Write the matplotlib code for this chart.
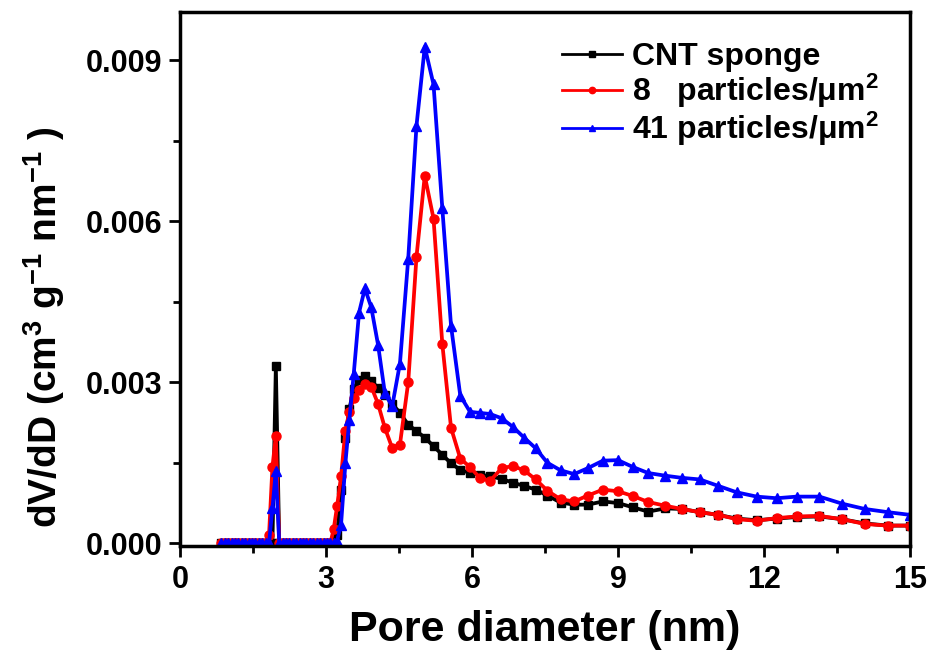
"""Pore size distribution: CNT sponge vs. particle-loaded sponges."""
import matplotlib

matplotlib.use("Agg")
import matplotlib.pyplot as plt
from matplotlib.ticker import FormatStrFormatter, MultipleLocator

# pore diameter grid (nm)
pore_d = [
    0.85, 0.92, 0.99, 1.06, 1.13, 1.20, 1.27, 1.34, 1.41, 1.48, 1.55, 1.62,
    1.69, 1.76, 1.83, 1.90, 1.97, 2.04, 2.11, 2.18, 2.25, 2.32, 2.39, 2.46,
    2.53, 2.60, 2.67, 2.74, 2.81, 2.88, 2.95, 3.02, 3.09, 3.16,
    3.23, 3.31, 3.40, 3.48, 3.57, 3.68, 3.80, 3.93, 4.07, 4.21, 4.36, 4.52,
    4.69, 4.86, 5.03, 5.21, 5.39, 5.57, 5.76, 5.96,
    6.16, 6.37, 6.61, 6.84, 7.07, 7.31, 7.55, 7.82, 8.10, 8.38, 8.69, 9.00,
    9.31, 9.62, 9.97, 10.31, 10.68, 11.06, 11.44, 11.85, 12.26, 12.67, 13.14,
    13.60, 14.07, 14.55, 15.00,
]

# dV/dD in units of 1e-3 cm3 g-1 nm-1
cnt_sponge = [
    0, 0, 0, 0, 0, 0, 0, 0, 0, 0, 0, 0,
    0, 0, 0, 0, 3.30, 0, 0, 0, 0, 0, 0, 0,
    0, 0, 0, 0, 0, 0, 0, 0, 0, 0,
    0.15, 1.00, 1.97, 2.50, 2.88, 3.05, 3.12, 3.02, 2.90, 2.77, 2.60, 2.43,
    2.21, 2.09, 1.97, 1.81, 1.65, 1.49, 1.37, 1.31,
    1.28, 1.25, 1.20, 1.13, 1.07, 1.00, 0.89, 0.76, 0.72, 0.72, 0.78, 0.75,
    0.67, 0.59, 0.65, 0.64, 0.58, 0.53, 0.46, 0.43, 0.46, 0.49, 0.50,
    0.45, 0.37, 0.33, 0.33,
]
p8 = [
    0, 0, 0, 0, 0, 0, 0, 0, 0, 0, 0, 0,
    0, 0, 0.15, 1.42, 2.00, 0, 0, 0, 0, 0, 0, 0,
    0, 0, 0, 0, 0, 0, 0, 0, 0, 0.27,
    0.70, 1.25, 2.10, 2.45, 2.70, 2.85, 2.96, 2.92, 2.60, 2.15, 1.78, 1.84,
    3.00, 5.34, 6.85, 6.05, 3.72, 2.15, 1.58, 1.42,
    1.22, 1.16, 1.40, 1.44, 1.36, 1.19, 0.98, 0.82, 0.78, 0.89, 1.00, 0.97,
    0.88, 0.77, 0.70, 0.64, 0.58, 0.53, 0.45, 0.42, 0.47, 0.50, 0.51,
    0.45, 0.36, 0.33, 0.33,
]
p41 = [
    0, 0, 0, 0, 0, 0, 0, 0, 0, 0, 0, 0,
    0, 0, 0, 0.65, 1.35, 0, 0, 0, 0, 0, 0, 0,
    0, 0, 0, 0, 0, 0, 0, 0, 0, 0,
    0.05, 0.35, 1.50, 2.30, 3.15, 4.30, 4.75, 4.40, 3.70, 2.80, 2.55, 3.35,
    5.30, 7.78, 9.25, 8.55, 6.25, 4.05, 2.75, 2.45,
    2.43, 2.41, 2.33, 2.17, 1.97, 1.77, 1.50, 1.36, 1.29, 1.40, 1.54, 1.55,
    1.42, 1.31, 1.26, 1.22, 1.19, 1.07, 0.95, 0.87, 0.84, 0.87, 0.87,
    0.74, 0.64, 0.58, 0.53,
]

labels = ["CNT sponge", "8   particles/\u03bcm$^2$", "41 particles/\u03bcm$^2$"]

plt.rcParams["font.family"] = ["Liberation Sans", "DejaVu Sans"]
plt.rcParams["font.weight"] = "bold"
plt.rcParams["mathtext.fontset"] = "custom"
plt.rcParams["mathtext.rm"] = "Liberation Sans:bold"
plt.rcParams["mathtext.it"] = "Liberation Sans:bold"
plt.rcParams["mathtext.bf"] = "Liberation Sans:bold"

fig = plt.figure(figsize=(9.3, 6.51), dpi=100)
ax = fig.add_axes([0.1935, 0.1613, 0.785, 0.8203])

scale = 1e-3
series = [
    (cnt_sponge, "black", "s", 5.5),
    (p8, "red", "o", 6.5),
    (p41, "blue", "^", 7),
]
for (vals, col, mk, ms), lab in zip(series, labels):
    ax.plot(pore_d, [v * scale for v in vals], color=col, marker=mk,
            markersize=ms, linewidth=2.7, label=lab)

ax.set_xlim(0, 15)
ax.set_ylim(-0.00005, 0.0099)
ax.xaxis.set_major_locator(MultipleLocator(3))
ax.xaxis.set_minor_locator(MultipleLocator(1.5))
ax.yaxis.set_major_locator(MultipleLocator(0.003))
ax.yaxis.set_minor_locator(MultipleLocator(0.0015))
ax.yaxis.set_major_formatter(FormatStrFormatter("%.3f"))

ax.tick_params(which="major", direction="out", length=8, width=2, labelsize=22)
ax.tick_params(which="minor", direction="out", length=5, width=2)
ax.tick_params(axis="x", pad=6)
ax.tick_params(axis="y", pad=5)
ax.tick_params(top=False, right=False)
for sp in ax.spines.values():
    sp.set_linewidth(2.5)

ax.set_xlabel("Pore diameter (nm)", fontsize=31, fontweight="bold")
ax.xaxis.set_label_coords(0.5, -0.12)
ax.set_ylabel("dV/dD (cm$^3$ g$^{-1}$ nm$^{-1}$ )", fontsize=28,
              fontweight="bold")
ax.yaxis.set_label_coords(-0.155, 0.41)

leg = ax.legend(loc="upper left", bbox_to_anchor=(0.573, 0.98),
                bbox_transform=fig.transFigure, frameon=False, fontsize=23,
                numpoints=1, handlelength=1.9, handletextpad=0.3,
                labelspacing=0.0, markerscale=0.7)
for line in leg.get_lines():
    line.set_linewidth(2)

fig.savefig("out.png", dpi=100)
